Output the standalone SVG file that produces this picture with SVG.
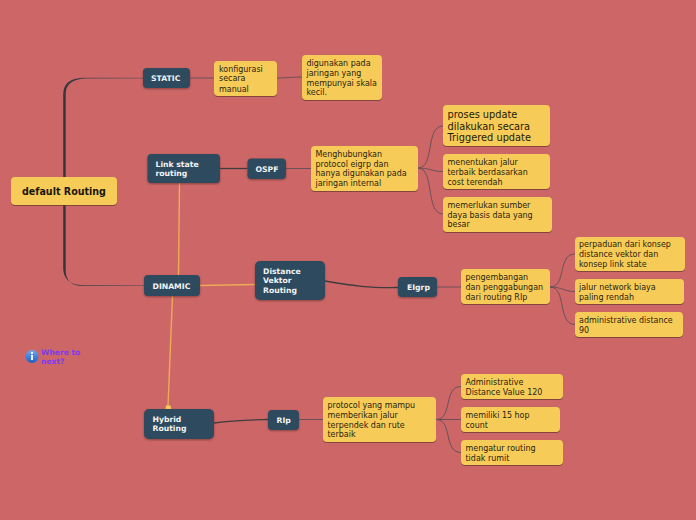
<svg xmlns="http://www.w3.org/2000/svg" width="696" height="520" viewBox="0 0 696 520">
<defs>
<linearGradient id="ig" x1="0" y1="0" x2="0" y2="1"><stop offset="0" stop-color="#6aa6ee"/><stop offset="1" stop-color="#1f5fc4"/></linearGradient>
<linearGradient id="tr" gradientUnits="userSpaceOnUse" x1="64" y1="0" x2="144" y2="0"><stop offset="0" stop-color="#35363a"/><stop offset="0.3" stop-color="#45404a"/><stop offset="1" stop-color="#74525a"/></linearGradient>
</defs>
<style>
text{font-family:"DejaVu Sans",Verdana,sans-serif}
.l{fill:#f6cb57;filter:drop-shadow(0 1px 0.6px rgba(90,50,40,.65))}
.d{fill:#2e4a5e;filter:drop-shadow(0 1px 0.8px rgba(90,40,40,.6))}
.lt{font-family:"DejaVu Sans Condensed","DejaVu Sans",sans-serif;font-size:8.85px;fill:#2a2410}
.dt{font-size:7.7px;font-weight:700;fill:#f2f4f5}
.c{fill:none;stroke:#6b5058;stroke-width:1}
.k{fill:none;stroke:#3f3c40;stroke-width:1.300}
.o{fill:none;stroke:#eda955;stroke-width:1.400}
</style>
<rect width="696" height="520" fill="#cd6767"/>
<g id="connectors">
<path d="M63.200 177V94Q63.200 78.500 83 77.700H143V78.400H85Q65.700 79.500 65.700 94V177Z" fill="url(#tr)"/>
<path d="M63.200 205V268Q63.200 284.500 83 285.300H144V286H84Q65.700 286.500 65.700 270V205Z" fill="url(#tr)"/>
<path class="c" d="M190 78H214"/>
<path class="c" d="M277 78C287 78 292 77 302 77"/>
<path class="k" d="M220 168.500H247.500"/>
<path class="c" d="M286 168.500H311"/>
<path class="o" d="M179.500 183L178.500 275"/>
<path class="o" d="M200 285.500L255 284.500"/>
<path class="o" d="M172.500 296L168 406"/>
<path d="M166 405.500h4.500l.6 3.500h-5.600z" fill="#f6cb57"/>
<path class="k" d="M325 281C355 286 368 288 398 287.500"/>
<path class="c" d="M437 287H461"/>
<path class="c" d="M418 168C435 168 425 126 443 126"/>
<path class="c" d="M418 168C430 168 432 171.500 443 171.500"/>
<path class="c" d="M418 168C435 168 425 214 443 214"/>
<path class="c" d="M550 287C567 287 557 254 575 254"/>
<path class="c" d="M550 287C562 287 564 291.500 575 291.500"/>
<path class="c" d="M550 287C567 287 557 324.500 575 324.500"/>
<path class="k" d="M214 423C235 420 245 420 268 419.500"/>
<path class="c" d="M299 419.500H323"/>
<path class="c" d="M436 419.500C453 419.500 443 386.500 461 386.500"/>
<path class="c" d="M436 419.500H461"/>
<path class="c" d="M436 419.500C453 419.500 443 452.500 461 452.500"/>
</g>
<g id="root"><rect class="l" x="11" y="177" width="106" height="28" rx="4"/><text x="22" y="195" font-size="10.600" font-weight="700" fill="#1a1608" style="font-family:'DejaVu Sans Condensed','DejaVu Sans',sans-serif">default Routing</text></g>
<g id="static"><rect class="d" x="143" y="68" width="47" height="20" rx="4"/><text class="dt" x="151" y="81">STATIC</text></g>
<g id="konfigurasi"><rect class="l" x="214" y="61" width="63" height="35" rx="4"/><text class="lt" x="219" y="72">konfigurasi</text><text class="lt" x="219" y="81">secara</text><text class="lt" x="219" y="91.500">manual</text></g>
<g id="digunakan"><rect class="l" x="302" y="55" width="80" height="45" rx="4"/><text class="lt" x="306.500" y="66">digunakan pada</text><text class="lt" x="306.500" y="76">jaringan yang</text><text class="lt" x="306.500" y="86">mempunyai skala</text><text class="lt" x="306.500" y="95">kecil.</text></g>
<g id="linkstate"><rect class="d" x="147.500" y="154" width="72.500" height="29" rx="4"/><text class="dt" x="155.500" y="167">Link state</text><text class="dt" x="155.500" y="176">routing</text></g>
<g id="ospf"><rect class="d" x="247.500" y="158.500" width="38.500" height="20.500" rx="4"/><text class="dt" x="255.500" y="172">OSPF</text></g>
<g id="menghubungkan"><rect class="l" x="311" y="146" width="107" height="45" rx="4"/><text class="lt" x="315.500" y="157">Menghubungkan</text><text class="lt" x="315.500" y="167">protocol eigrp dan</text><text class="lt" x="315.500" y="176">hanya digunakan pada</text><text class="lt" x="315.500" y="186">jaringan internal</text></g>
<g id="proses"><rect class="l" x="443" y="105" width="107" height="41" rx="4"/><g style="font-family:'DejaVu Sans Condensed','DejaVu Sans',sans-serif" font-size="9.800" fill="#1f1a08"><text x="447.500" y="118">proses update</text><text x="447.500" y="129.500">dilakukan secara</text><text x="447.500" y="141">Triggered update</text></g></g>
<g id="menentukan"><rect class="l" x="443" y="154" width="107" height="35" rx="4"/><text class="lt" x="447.500" y="165">menentukan jalur</text><text class="lt" x="447.500" y="175">terbaik berdasarkan</text><text class="lt" x="447.500" y="185">cost terendah</text></g>
<g id="memerlukan"><rect class="l" x="443" y="197" width="109" height="35" rx="4"/><text class="lt" x="447.500" y="208">memerlukan sumber</text><text class="lt" x="447.500" y="218">daya basis data yang</text><text class="lt" x="447.500" y="227">besar</text></g>
<g id="dinamic"><rect class="d" x="144" y="275" width="56" height="21" rx="4"/><text class="dt" x="152.500" y="288.500">DINAMIC</text></g>
<g id="distance"><rect class="d" x="255" y="261" width="70" height="39" rx="5"/><text class="dt" x="263" y="274">Distance</text><text class="dt" x="263" y="283">Vektor</text><text class="dt" x="263" y="293">Routing</text></g>
<g id="eigrp"><rect class="d" x="398" y="277" width="39" height="20" rx="4"/><text class="dt" x="407" y="290">EIgrp</text></g>
<g id="pengembangan"><rect class="l" x="461" y="269" width="89" height="35" rx="4"/><text class="lt" x="465.500" y="280">pengembangan</text><text class="lt" x="465.500" y="290">dan penggabungan</text><text class="lt" x="465.500" y="300">dari routing RIp</text></g>
<g id="perpaduan"><rect class="l" x="575" y="237" width="110" height="34" rx="4"/><text class="lt" x="579" y="247">perpaduan dari konsep</text><text class="lt" x="579" y="257">distance vektor dan</text><text class="lt" x="579" y="267">konsep link state</text></g>
<g id="jalur"><rect class="l" x="575" y="279" width="109" height="25" rx="4"/><text class="lt" x="579" y="290">jalur network biaya</text><text class="lt" x="579" y="300">paling rendah</text></g>
<g id="admin90"><rect class="l" x="575" y="312" width="108" height="25" rx="4"/><text class="lt" x="579" y="323">administrative distance</text><text class="lt" x="579" y="333">90</text></g>
<g id="hybrid"><rect class="d" x="144" y="409" width="70" height="30" rx="5"/><text class="dt" x="152.500" y="422">Hybrid</text><text class="dt" x="152.500" y="431">Routing</text></g>
<g id="rip"><rect class="d" x="268" y="410" width="31" height="20" rx="4"/><text class="dt" x="276.500" y="423">RIp</text></g>
<g id="protocol"><rect class="l" x="323" y="397" width="113" height="45" rx="4"/><text class="lt" x="327.500" y="408">protocol yang mampu</text><text class="lt" x="327.500" y="418">memberikan jalur</text><text class="lt" x="327.500" y="428">terpendek dan rute</text><text class="lt" x="327.500" y="437">terbaik</text></g>
<g id="admin120"><rect class="l" x="461" y="374" width="102" height="25" rx="4"/><text class="lt" x="465.500" y="385">Administrative</text><text class="lt" x="465.500" y="395">Distance Value 120</text></g>
<g id="memiliki"><rect class="l" x="461" y="407" width="99" height="25" rx="4"/><text class="lt" x="465.500" y="418">memiliki 15 hop</text><text class="lt" x="465.500" y="428">count</text></g>
<g id="mengatur"><rect class="l" x="461" y="440" width="102" height="25" rx="4"/><text class="lt" x="465.500" y="451">mengatur routing</text><text class="lt" x="465.500" y="461">tidak rumit</text></g>
<g id="where"><circle cx="32" cy="356.500" r="6.500" fill="url(#ig)"/><rect x="31" y="355" width="2" height="5" fill="#eef4ff"/><circle cx="32" cy="353" r="1.200" fill="#eef4ff"/><text x="41" y="355" font-size="7.600" font-weight="700" fill="#7c3aed">Where to</text><text x="41" y="364" font-size="7.600" font-weight="700" fill="#7c3aed">next?</text></g>
</svg>
